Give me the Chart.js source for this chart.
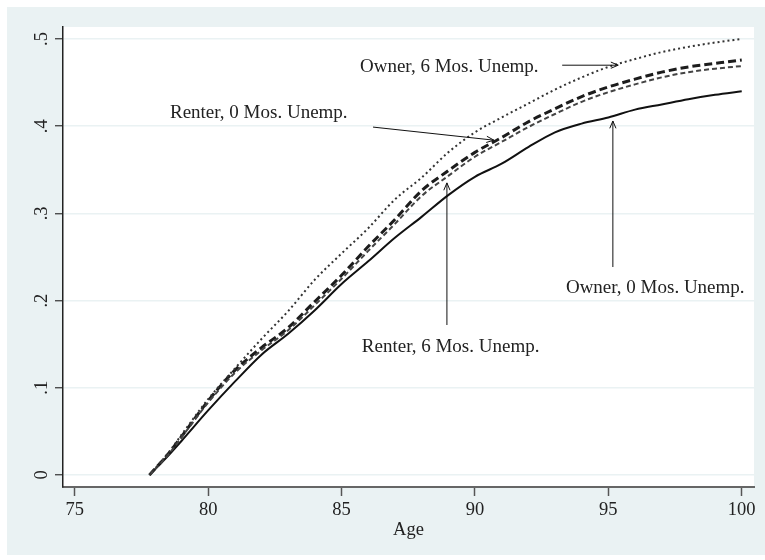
<!DOCTYPE html>
<html lang="en">
<head>
  <meta charset="UTF-8" />
  <title>Cumulative probability by age</title>
  <script src="https://cdn.jsdelivr.net/npm/chart.js"></script>
  <style>
    html, body { margin: 0; padding: 0; background: #fff; }
    canvas { display: block; }
  </style>
</head>
<body>
  <canvas id="chart" width="765" height="560"></canvas>

  <script>
    // ages (x) and the four curves
    const ages = [77.8, 78.5, 79, 80, 81, 82, 83, 84, 85, 86, 87, 88, 89, 90, 91, 92, 93, 94, 95, 96, 97, 98, 99, 100];
    const ownerNoUnemp  = [0, 0.022, 0.039, 0.074, 0.107, 0.138, 0.162, 0.189, 0.219, 0.245, 0.272, 0.296, 0.321, 0.342, 0.357, 0.376, 0.393, 0.403, 0.410, 0.419, 0.425, 0.431, 0.436, 0.440];
    const renterNoUnemp = [0, 0.024, 0.044, 0.085, 0.120, 0.146, 0.169, 0.199, 0.229, 0.262, 0.293, 0.326, 0.349, 0.370, 0.387, 0.405, 0.420, 0.434, 0.445, 0.454, 0.462, 0.468, 0.472, 0.476];
    const renterSixUnemp = [0, 0.023, 0.043, 0.083, 0.117, 0.143, 0.166, 0.195, 0.225, 0.257, 0.288, 0.320, 0.343, 0.365, 0.382, 0.399, 0.414, 0.428, 0.439, 0.448, 0.456, 0.462, 0.466, 0.469];
    const ownerSixUnemp = [0, 0.025, 0.046, 0.087, 0.122, 0.156, 0.188, 0.224, 0.254, 0.283, 0.316, 0.341, 0.370, 0.393, 0.410, 0.426, 0.442, 0.456, 0.468, 0.477, 0.485, 0.491, 0.496, 0.500];

    const xTicks = [75, 80, 85, 90, 95, 100];
    const yTicks = [0, 0.1, 0.2, 0.3, 0.4, 0.5];
    const yTickLabels = ['0', '.1', '.2', '.3', '.4', '.5'];

    // text labels with arrows, in data units
    const notes = [
      { text: 'Owner, 6 Mos. Unemp.',  at: [85.69, 0.468], from: [93.27, 0.470], to: [95.37, 0.470] },
      { text: 'Renter, 0 Mos. Unemp.', at: [78.57, 0.415], from: [86.18, 0.399], to: [90.71, 0.384] },
      { text: 'Owner, 0 Mos. Unemp.',  at: [93.41, 0.2145], from: [95.17, 0.2385], to: [95.17, 0.406] },
      { text: 'Renter, 6 Mos. Unemp.', at: [85.76, 0.1468], from: [88.95, 0.172], to: [88.95, 0.335] }
    ];

    const FONT = 'Liberation Serif';
    const TEXT = '#222';
    const pts = ys => ages.map((a, i) => ({ x: a, y: ys[i] }));

    const backgroundPlugin = {
      id: 'bg',
      beforeDraw(chart) {
        const { ctx, chartArea: a } = chart;
        ctx.save();
        ctx.fillStyle = '#fff';
        ctx.fillRect(0, 0, chart.width, chart.height);
        ctx.fillStyle = '#eaf2f3';
        ctx.fillRect(7, 7, chart.width - 7, chart.height - 12);
        ctx.fillStyle = '#fff';
        ctx.fillRect(a.left, a.top, a.right - a.left, a.bottom - a.top);
        ctx.restore();
      }
    };

    const notesPlugin = {
      id: 'notes',
      afterDatasetsDraw(chart) {
        const { ctx, scales: { x, y } } = chart;
        ctx.save();
        ctx.font = '19px "' + FONT + '"';
        ctx.fillStyle = TEXT;
        ctx.textAlign = 'left';
        ctx.textBaseline = 'middle';
        ctx.strokeStyle = '#111';
        ctx.lineWidth = 1;
        notes.forEach(n => {
          ctx.fillText(n.text, x.getPixelForValue(n.at[0]), y.getPixelForValue(n.at[1]));
          const x1 = x.getPixelForValue(n.from[0]), y1 = y.getPixelForValue(n.from[1]);
          const x2 = x.getPixelForValue(n.to[0]), y2 = y.getPixelForValue(n.to[1]);
          const ang = Math.atan2(y2 - y1, x2 - x1);
          ctx.beginPath();
          ctx.moveTo(x1, y1);
          ctx.lineTo(x2, y2);
          ctx.moveTo(x2 - 8 * Math.cos(ang - 0.4), y2 - 8 * Math.sin(ang - 0.4));
          ctx.lineTo(x2, y2);
          ctx.lineTo(x2 - 8 * Math.cos(ang + 0.4), y2 - 8 * Math.sin(ang + 0.4));
          ctx.stroke();
        });
        ctx.restore();
      }
    };

    const lineDefaults = { pointRadius: 0, cubicInterpolationMode: 'monotone', fill: false };

    new Chart(document.getElementById('chart'), {
      type: 'line',
      data: {
        datasets: [
          { ...lineDefaults, label: 'Owner, 6 Mos. Unemp.', data: pts(ownerSixUnemp), borderColor: '#333', borderWidth: 2, borderDash: [2, 3] },
          { ...lineDefaults, label: 'Renter, 6 Mos. Unemp.', data: pts(renterSixUnemp), borderColor: '#444', borderWidth: 2, borderDash: [5, 3] },
          { ...lineDefaults, label: 'Renter, 0 Mos. Unemp.', data: pts(renterNoUnemp), borderColor: '#1c1c1c', borderWidth: 3, borderDash: [8, 4] },
          { ...lineDefaults, label: 'Owner, 0 Mos. Unemp.', data: pts(ownerNoUnemp), borderColor: '#111', borderWidth: 2 }
        ]
      },
      options: {
        responsive: false,
        animation: false,
        devicePixelRatio: 1,
        layout: { padding: { left: 7, top: 27, right: 11, bottom: 19 } },
        plugins: { legend: { display: false }, tooltip: { enabled: false } },
        scales: {
          x: {
            type: 'linear',
            min: 74.56,
            max: 100.46,
            afterFit: s => { s.height = 54; },
            afterBuildTicks: s => { s.ticks = xTicks.map(v => ({ value: v })); },
            ticks: { font: { family: FONT, size: 18.5 }, color: TEXT, padding: 3, maxRotation: 0 },
            grid: { drawOnChartArea: false, tickColor: '#555', tickLength: 9, tickWidth: 1.5 },
            border: { color: '#666', width: 2 },
            title: { display: true, text: 'Age', font: { family: FONT, size: 18.5 }, color: TEXT, padding: 0 }
          },
          y: {
            type: 'linear',
            min: -0.0138,
            max: 0.5138,
            afterFit: s => { s.width = 56; },
            afterBuildTicks: s => { s.ticks = yTicks.map(v => ({ value: v })); },
            ticks: {
              font: { family: FONT, size: 18.5 }, color: TEXT, padding: 6,
              minRotation: 90, maxRotation: 90, crossAlign: 'center',
              callback: (v, i) => yTickLabels[i]
            },
            grid: { color: '#eaf2f3', lineWidth: 1.5, tickColor: '#333', tickLength: 8, tickWidth: 1.2 },
            border: { color: '#222', width: 1.5 }
          }
        }
      },
      plugins: [backgroundPlugin, notesPlugin]
    });
  </script>
</body>
</html>
